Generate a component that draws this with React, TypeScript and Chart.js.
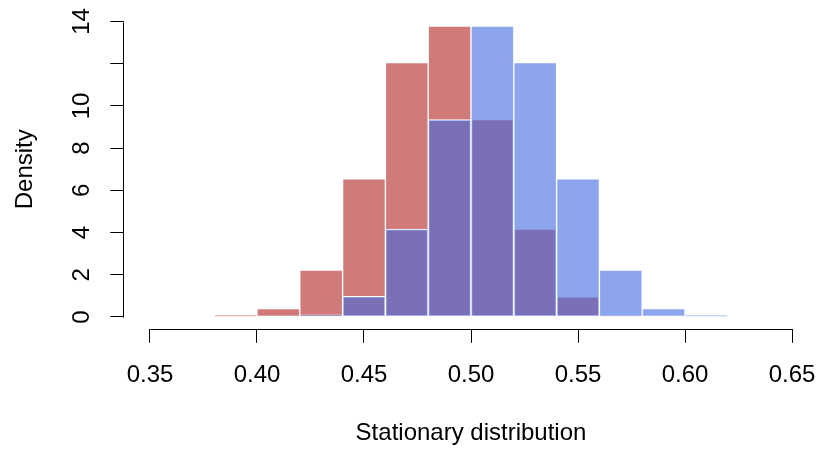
import React, { useEffect, useRef } from "react";
import { Chart, registerables } from "chart.js";

Chart.register(...registerables);

// ---- data ----
const binCenters = [0.39, 0.41, 0.43, 0.45, 0.47, 0.49, 0.51, 0.53, 0.55, 0.57, 0.59, 0.61];
const redDensity = [0.08, 0.4, 2.22, 6.55, 12.05, 13.78, 9.35, 4.16, 0.96, 0.08, 0, 0];
const blueDensity = [0, 0, 0.1, 0.98, 4.16, 9.35, 13.78, 12.05, 6.55, 2.22, 0.4, 0.08];
const xTickValues = [0.35, 0.4, 0.45, 0.5, 0.55, 0.6, 0.65];
const xTickLabels = ["0.35", "0.40", "0.45", "0.50", "0.55", "0.60", "0.65"];
const yTickValues = [0, 2, 4, 6, 8, 10, 12, 14];
const yTickLabels = ["0", "2", "4", "6", "8", "10", "", "14"];
const xTitle = "Stationary distribution";
const yTitle = "Density";

const W = 819;
const H = 449;
const FONT = '24px "Liberation Sans", Arial, Helvetica, sans-serif';

const PLOT_LEFT = 124.3;
const PLOT_RIGHT = 817.7;
const PLOT_TOP = 9.7;
const PLOT_BOTTOM = 328.8;

const rAxesPlugin = {
  id: "rAxes",
  afterDraw(chart: any) {
    const { ctx } = chart;
    const xs = chart.scales.x;
    const ys = chart.scales.y;
    ctx.save();
    ctx.strokeStyle = "#000";
    ctx.lineWidth = 1;
    // x axis line
    const xb = Math.round(chart.chartArea.bottom) + 0.5;
    ctx.beginPath();
    ctx.moveTo(Math.round(xs.getPixelForValue(xTickValues[0])) + 0.5, xb);
    ctx.lineTo(Math.round(xs.getPixelForValue(xTickValues[xTickValues.length - 1])) + 0.5, xb);
    ctx.stroke();
    // y axis line
    const yl = Math.round(chart.chartArea.left) - 0.5;
    ctx.beginPath();
    ctx.moveTo(yl, Math.round(ys.getPixelForValue(yTickValues[0])) + 0.5);
    ctx.lineTo(yl, Math.round(ys.getPixelForValue(yTickValues[yTickValues.length - 1])) + 0.5);
    ctx.stroke();

    ctx.fillStyle = "#000";
    ctx.font = FONT;
    // x tick labels
    ctx.textAlign = "center";
    ctx.textBaseline = "alphabetic";
    xTickValues.forEach((v, i) => {
      ctx.fillText(xTickLabels[i], xs.getPixelForValue(v), 381.5);
    });
    // y tick labels (rotated)
    yTickValues.forEach((v, i) => {
      if (!yTickLabels[i]) return;
      ctx.save();
      ctx.translate(88.8, ys.getPixelForValue(v));
      ctx.rotate(-Math.PI / 2);
      ctx.textAlign = "center";
      ctx.textBaseline = "alphabetic";
      ctx.fillText(yTickLabels[i], 0, 0);
      ctx.restore();
    });
    // titles
    const cx = (chart.chartArea.left + chart.chartArea.right) / 2;
    const cy = (chart.chartArea.top + chart.chartArea.bottom) / 2;
    ctx.textAlign = "center";
    ctx.fillText(xTitle, cx, 440);
    ctx.save();
    ctx.translate(31.5, cy);
    ctx.rotate(-Math.PI / 2);
    ctx.fillText(yTitle, 0, 0);
    ctx.restore();
    ctx.restore();
  },
};

export default function App() {
  const ref = useRef<HTMLCanvasElement | null>(null);
  useEffect(() => {
    if (!ref.current) return;
    const chart = new Chart(ref.current, {
      type: "bar",
      data: {
        datasets: [
          {
            label: "red",
            data: binCenters.map((x, i) => ({ x, y: redDensity[i] })),
            backgroundColor: "rgba(178,34,34,0.6)",
            borderColor: "#ffffff",
            borderWidth: 1,
            borderSkipped: false,
            grouped: false,
            order: 1,
            barPercentage: 1,
            categoryPercentage: 1,
          } as any,
          {
            label: "blue",
            data: binCenters.map((x, i) => ({ x, y: blueDensity[i] })),
            backgroundColor: "rgba(65,105,225,0.6)",
            borderColor: "#ffffff",
            borderWidth: 1,
            borderSkipped: false,
            grouped: false,
            order: 0,
            barPercentage: 1,
            categoryPercentage: 1,
          } as any,
        ],
      },
      options: {
        responsive: false,
        animation: false,
        layout: {
          padding: { left: 0, right: W - PLOT_RIGHT, top: PLOT_TOP, bottom: 0 },
        },
        plugins: { legend: { display: false }, tooltip: { enabled: false } },
        scales: {
          x: {
            type: "linear",
            min: 0.338,
            max: 0.662,
            offset: false,
            afterBuildTicks: (scale: any) => {
              scale.ticks = xTickValues.map((v) => ({ value: v }));
            },
            afterFit: (scale: any) => {
              scale.height = H - PLOT_BOTTOM;
              scale.paddingLeft = 0;
              scale.paddingRight = 0;
            },
            ticks: { display: false },
            border: { display: false },
            grid: {
              offset: false,
              drawOnChartArea: false,
              drawTicks: true,
              tickLength: 14,
              color: "#000",
              lineWidth: 1,
            },
          },
          y: {
            type: "linear",
            min: -0.56,
            max: 14.56,
            afterBuildTicks: (scale: any) => {
              scale.ticks = yTickValues.map((v) => ({ value: v }));
            },
            afterFit: (scale: any) => {
              scale.width = PLOT_LEFT;
              scale.paddingTop = 0;
              scale.paddingBottom = 0;
            },
            ticks: { display: false },
            border: { display: false },
            grid: {
              drawOnChartArea: false,
              drawTicks: true,
              tickLength: 14,
              color: "#000",
              lineWidth: 1,
            },
          },
        },
      } as any,
      plugins: [rAxesPlugin],
    });
    return () => chart.destroy();
  }, []);
  return (
    <div style={{ position: "fixed", left: 0, top: 0, width: W, height: H, background: "#fff" }}>
      <canvas ref={ref} width={W} height={H} style={{ display: "block" }} />
    </div>
  );
}
